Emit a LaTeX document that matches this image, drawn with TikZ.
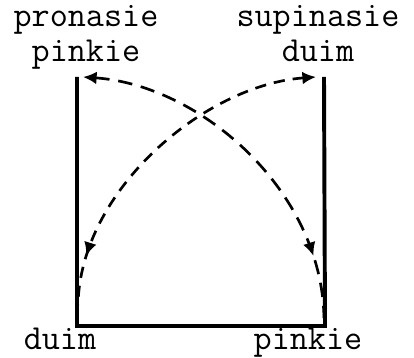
\documentclass[tikz,border=0pt]{standalone}
\usepackage{tikz}
\usetikzlibrary{arrows.meta,calc,positioning,decorations.markings}

\begin{document}
\begin{tikzpicture}[>={Latex[length=3.4mm,width=3.2mm]},
    font=\ttfamily\fontsize{25}{25}\selectfont,
    lbl/.style={anchor=base, inner sep=0pt},
    frame/.style={line width=2.8pt, line join=miter},
    swing/.style={line width=1.9pt, dash pattern=on 3.6mm off 2.2mm,
        postaction={decorate}},
    tip/.style={decoration={markings, mark=at position #1 with {\arrow{>}}}}]
    \useasboundingbox (0,0) rectangle (10.35,8.95);

    % hoeke
    \coordinate (pp) at (1.925,7.025);
    \coordinate (sd) at (8.1,7.025);
    \coordinate (dm) at (1.925,0.8);
    \coordinate (pk) at (8.125,0.8);

    % byskrifte
    \node[lbl] (pro) at (2.15,8.275) {pronasie};
    \node[lbl] (prop) at (2.15,7.4) {pinkie};
    \node[lbl] (sup) at (7.95,8.275) {supinasie};
    \node[lbl] (supd) at (7.95,7.4) {duim};
    \node[lbl] (bdm) at (1.5,0.22) {duim};
    \node[lbl] (bpk) at (7.7,0.22) {pinkie};

    % raam
    \draw[frame] (pp) -- (dm) -- (pk) -- (sd);

    % boog pinkie -> pinkie
    \draw[swing, tip=0.83, <-] ($(pp)+(0.15,0)$) .. controls (5.0,6.825) and (8.05,4.2) .. ($(pk)+(-0.025,0.2)$);
    % boog duim -> duim
    \draw[swing, dash pattern=on 2.8mm off 2mm, tip=0.86, <-] ($(sd)+(-0.2,0)$) .. controls (5.125,6.825) and (2.0,4.2) .. ($(dm)+(0.025,0.525)$);
\end{tikzpicture}
\end{document}
